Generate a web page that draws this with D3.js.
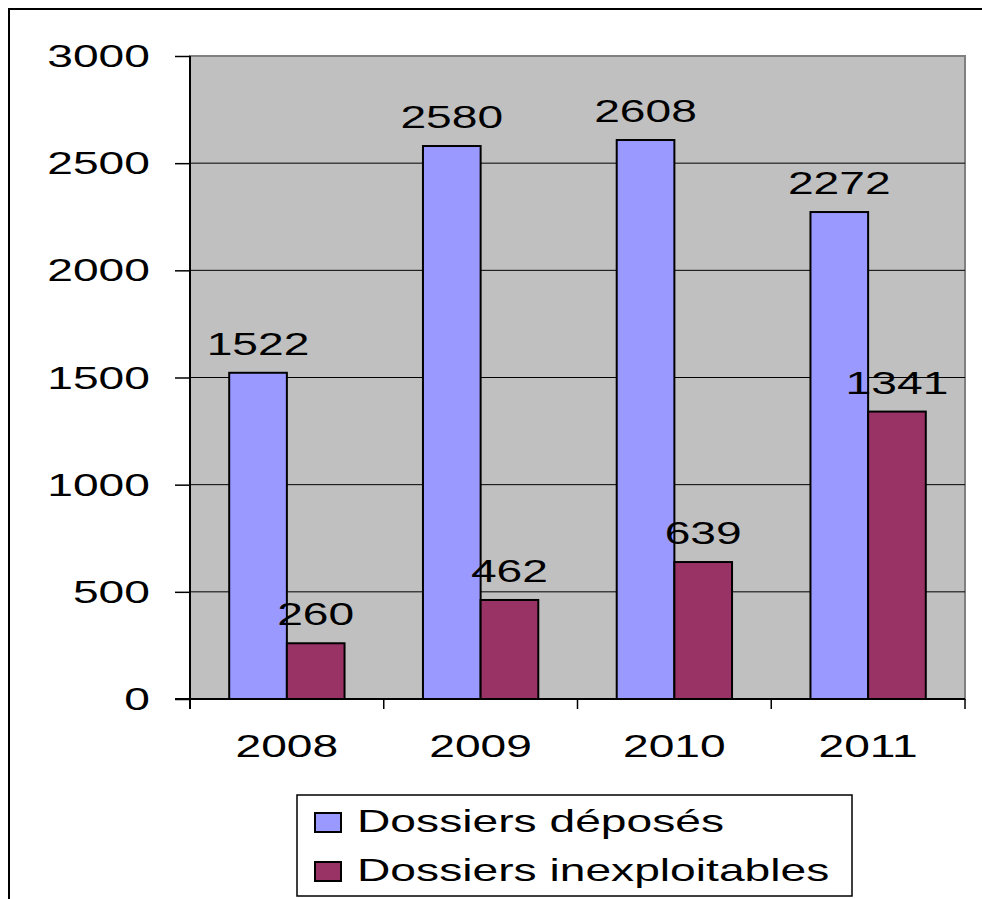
<!DOCTYPE html>
<html>
<head>
<meta charset="utf-8">
<script src="https://cdn.jsdelivr.net/npm/d3@7"></script>
<style>
  body { margin: 0; background: #fff; }
  svg text { font-family: "Liberation Sans", Arial, sans-serif; fill: #000; }
</style>
</head>
<body>
<div id="chart"></div>
<script>
// Data
const years = ["2008", "2009", "2010", "2011"];
const seriesNames = ["Dossiers déposés", "Dossiers inexploitables"];
const deposes = [1522, 2580, 2608, 2272];
const inexploitables = [260, 462, 639, 1341];
const yTicks = [0, 500, 1000, 1500, 2000, 2500, 3000];
const colors = ["#9999FF", "#993366"];

const width = 982;
const height = 899;
const plot = { left: 190, top: 56, right: 965, bottom: 699 };
// the original picture is stretched sideways
const stretch = 1.49;
const fontSize = 31;

const svg = d3.select("#chart")
    .append("svg")
    .attr("width", width)
    .attr("height", height);

// outer frame
svg.append("path")
    .attr("d", "M9,899 L9,9 L982,9")
    .attr("fill", "none")
    .attr("stroke", "#000")
    .attr("stroke-width", 2);

const xScale = d3.scaleBand()
    .domain(years)
    .range([plot.left, plot.right]);

const xSeries = d3.scaleBand()
    .domain(seriesNames)
    .range([0, xScale.bandwidth()])
    .paddingOuter(0.68);

const yScale = d3.scaleLinear()
    .domain([0, 3000])
    .range([plot.bottom, plot.top]);

// plot background
svg.append("rect")
    .attr("x", plot.left)
    .attr("y", plot.top)
    .attr("width", plot.right - plot.left)
    .attr("height", plot.bottom - plot.top)
    .attr("fill", "#C0C0C0")
    .attr("stroke", "#808080")
    .attr("stroke-width", 2);

// gridlines
svg.selectAll(".grid")
    .data(yTicks.filter(d => d > 0 && d < 3000))
    .enter()
    .append("line")
    .attr("class", "grid")
    .attr("x1", plot.left)
    .attr("x2", plot.right)
    .attr("y1", d => yScale(d))
    .attr("y2", d => yScale(d))
    .attr("stroke", "#000")
    .attr("stroke-width", 1);

// helper for stretched text
function stretchedText(sel, x, y, anchor) {
    return sel.attr("transform", (d, i) => "translate(" + x(d, i) + "," + y(d, i) + ") scale(" + stretch + ",1)")
        .attr("text-anchor", anchor)
        .style("font-size", fontSize + "px");
}

// y axis
const yAxis = d3.axisLeft(yScale)
    .tickValues(yTicks)
    .tickSize(15)
    .tickFormat("");
const yAxisG = svg.append("g")
    .attr("transform", "translate(" + plot.left + ",0)")
    .call(yAxis);
yAxisG.select(".domain").attr("stroke", "#000").attr("stroke-width", 2).attr("d", "M0," + (plot.top) + "V" + (plot.bottom + 10));
yAxisG.selectAll(".tick line").attr("stroke", "#000").attr("stroke-width", 1.5);

svg.selectAll(".ylabel")
    .data(yTicks)
    .enter()
    .append("text")
    .attr("class", "ylabel")
    .call(stretchedText, () => 150, d => yScale(d) + 11, "end")
    .text(d => d);

// x axis
const xAxis = d3.axisBottom(xScale).tickSize(0).tickFormat("");
const xAxisG = svg.append("g")
    .attr("transform", "translate(0," + plot.bottom + ")")
    .call(xAxis);
xAxisG.select(".domain").attr("stroke", "#000").attr("stroke-width", 2).attr("d", "M" + (plot.left - 15) + ",0H" + plot.right);

const boundaries = years.map(d => xScale(d)).concat([plot.right]);
svg.selectAll(".xtick")
    .data(boundaries)
    .enter()
    .append("line")
    .attr("class", "xtick")
    .attr("x1", d => d)
    .attr("x2", d => d)
    .attr("y1", plot.bottom)
    .attr("y2", plot.bottom + 10)
    .attr("stroke", "#000")
    .attr("stroke-width", 1.5);

svg.selectAll(".xlabel")
    .data(years)
    .enter()
    .append("text")
    .attr("class", "xlabel")
    .call(stretchedText, d => xScale(d) + xScale.bandwidth() / 2, () => 757, "middle")
    .text(d => d);

// bars
const rows = years.map((year, i) => ({
    year: year,
    values: [
        { name: seriesNames[0], value: deposes[i], color: colors[0] },
        { name: seriesNames[1], value: inexploitables[i], color: colors[1] }
    ]
}));

const groups = svg.selectAll(".year")
    .data(rows)
    .enter()
    .append("g")
    .attr("class", "year")
    .attr("transform", d => "translate(" + xScale(d.year) + ",0)");

groups.selectAll("rect")
    .data(d => d.values)
    .enter()
    .append("rect")
    .attr("x", d => xSeries(d.name))
    .attr("y", d => yScale(d.value))
    .attr("width", xSeries.bandwidth())
    .attr("height", d => plot.bottom - yScale(d.value))
    .attr("fill", d => d.color)
    .attr("stroke", "#000")
    .attr("stroke-width", 2);

groups.selectAll(".value")
    .data(d => d.values)
    .enter()
    .append("text")
    .attr("class", "value")
    .call(stretchedText, d => xSeries(d.name) + xSeries.bandwidth() / 2, d => yScale(d.value) - 18, "middle")
    .text(d => d.value);

// legend
const legend = svg.append("g").attr("class", "legend");
legend.append("rect")
    .attr("x", 297)
    .attr("y", 795)
    .attr("width", 555)
    .attr("height", 101)
    .attr("fill", "#fff")
    .attr("stroke", "#000")
    .attr("stroke-width", 1.5);

const legendItems = legend.selectAll(".item")
    .data(seriesNames)
    .enter()
    .append("g")
    .attr("class", "item")
    .attr("transform", (d, i) => "translate(0," + (i * 49) + ")");

legendItems.append("rect")
    .attr("x", 315)
    .attr("y", 813)
    .attr("width", 26)
    .attr("height", 19)
    .attr("fill", (d, i) => colors[i])
    .attr("stroke", "#000")
    .attr("stroke-width", 2);

legendItems.append("text")
    .call(stretchedText, () => 357, () => 832, "start")
    .text(d => d);
</script>
</body>
</html>
